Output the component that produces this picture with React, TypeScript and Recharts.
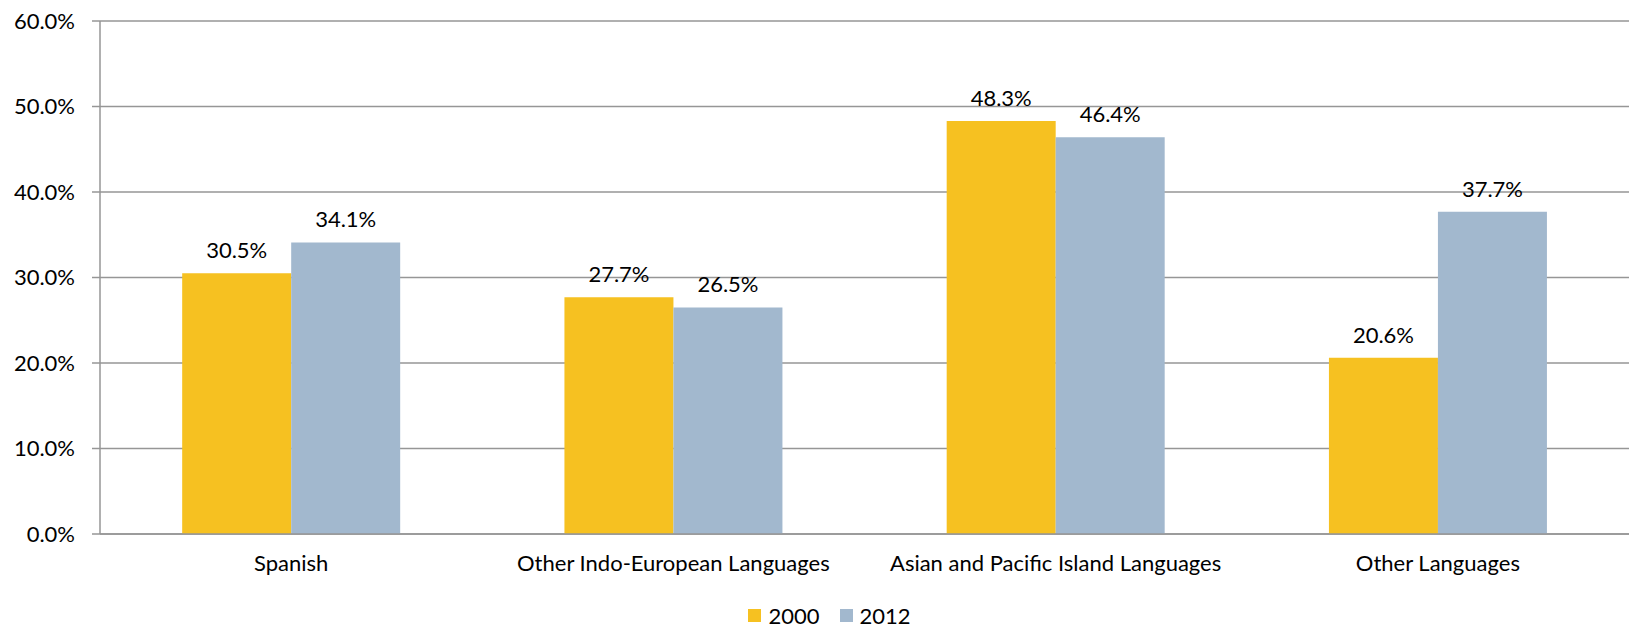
import React from "react";
import { BarChart, Bar, XAxis, YAxis, CartesianGrid, Legend, LabelList } from "recharts";

const categories = [
  "Spanish",
  "Other Indo-European Languages",
  "Asian and Pacific Island Languages",
  "Other Languages",
];
const values2000 = [30.5, 27.7, 48.3, 20.6];
const values2012 = [34.1, 26.5, 46.4, 37.7];
const yTicks = [0, 10, 20, 30, 40, 50, 60];
const edgeTicks = [0, 1, 2, 3, 4];
const seriesNames = ["2000", "2012"];
const seriesColors = ["#F6C121", "#A2B8CE"];

const data = categories.map((c, i) => ({
  name: c,
  idx: i + 0.5,
  y2000: values2000[i],
  y2012: values2012[i],
}));

const FONT = "Lato, 'DejaVu Sans', sans-serif";
const GRID = "#969696";
const fmt = (v: number) => `${v.toFixed(1)}%`;

const LegendContent = () => (
  <div style={{ display: "flex", justifyContent: "center", alignItems: "center", paddingLeft: 30, fontFamily: FONT, fontSize: 22, color: "#000", height: 30, position: "relative", top: 3 }}>
    {seriesNames.map((n, i) => (
      <div key={n} style={{ display: "flex", alignItems: "center", marginRight: i === 0 ? 20 : 0 }}>
        <span style={{ display: "inline-block", width: 13, height: 13, background: seriesColors[i], marginRight: 7 }} />
        <span>{n}</span>
      </div>
    ))}
  </div>
);

export default function App() {
  return (
    <div style={{ position: "absolute", left: 0, top: 0, width: 1634, height: 627, background: "#fff", fontFamily: FONT }}>
      <BarChart
        width={1634}
        height={627}
        data={data}
        margin={{ top: 21, right: 5, left: 0, bottom: 0 }}
        barCategoryGap="21.5%"
        barGap={0}
      >
        <CartesianGrid vertical={false} stroke={GRID} strokeWidth={1.5} />
        <XAxis
          xAxisId={0}
          type="number"
          dataKey="idx"
          domain={[0, 4]}
          ticks={edgeTicks}
          tick={false}
          tickSize={7}
          height={1}
          axisLine={{ stroke: GRID, strokeWidth: 1.5 }}
          tickLine={{ stroke: GRID, strokeWidth: 1.5 }}
        />
        <XAxis
          xAxisId={1}
          dataKey="name"
          type="category"
          axisLine={false}
          tickLine={false}
          tickMargin={14}
          height={62}
          interval={0}
          tick={{ fill: "#000", fontSize: 22, fontFamily: FONT }}
        />
        <YAxis
          domain={[0, 60]}
          ticks={yTicks}
          tickFormatter={fmt}
          width={100}
          tickSize={8}
          tickMargin={17}
          axisLine={{ stroke: GRID, strokeWidth: 1.5 }}
          tickLine={{ stroke: GRID, strokeWidth: 1.5 }}
          tick={{ fill: "#000", fontSize: 22, fontFamily: FONT }}
        />
        <Legend verticalAlign="bottom" align="center" content={LegendContent} />
        <Bar xAxisId={1} dataKey="y2000" name="2000" fill={seriesColors[0]} isAnimationActive={false}>
          <LabelList dataKey="y2000" position="top" offset={15} formatter={(v: any) => fmt(Number(v))} style={{ fill: "#000", fontSize: 22, fontFamily: FONT }} />
        </Bar>
        <Bar xAxisId={1} dataKey="y2012" name="2012" fill={seriesColors[1]} isAnimationActive={false}>
          <LabelList dataKey="y2012" position="top" offset={15} formatter={(v: any) => fmt(Number(v))} style={{ fill: "#000", fontSize: 22, fontFamily: FONT }} />
        </Bar>
      </BarChart>
    </div>
  );
}
